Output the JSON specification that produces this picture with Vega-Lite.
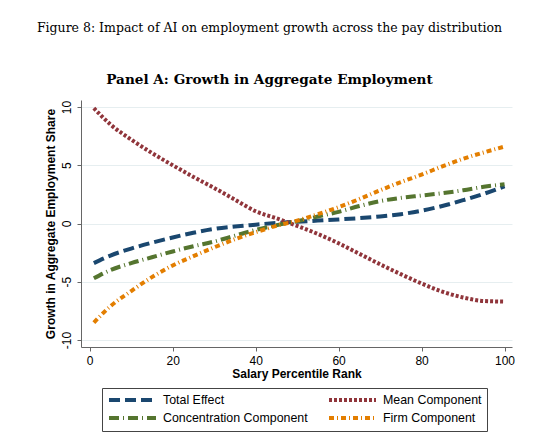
{
  "$schema": "https://vega.github.io/schema/vega-lite/v6.json",
  "autosize": {"type": "none"},
  "padding": {"left": 81, "top": 100, "right": 28, "bottom": 93},
  "width": 431,
  "height": 247,
  "background": "white",
  "title": {
    "text": "Figure 8: Impact of AI on employment growth across the pay distribution",
    "subtitle": "Panel A: Growth in Aggregate Employment",
    "anchor": "middle",
    "frame": "group",
    "dx": -27,
    "offset": 13,
    "font": "DejaVu Serif",
    "fontSize": 12.5,
    "fontWeight": "normal",
    "color": "#000000",
    "subtitleFont": "DejaVu Serif",
    "subtitleFontSize": 13.6,
    "subtitleFontWeight": "bold",
    "subtitleColor": "#000000",
    "subtitlePadding": 39
  },
  "data": {
    "values": [
      {"x": 1, "y": -3.4, "s": "Total Effect"},
      {"x": 5, "y": -2.75, "s": "Total Effect"},
      {"x": 10, "y": -2.15, "s": "Total Effect"},
      {"x": 15, "y": -1.65, "s": "Total Effect"},
      {"x": 20, "y": -1.2, "s": "Total Effect"},
      {"x": 25, "y": -0.8, "s": "Total Effect"},
      {"x": 30, "y": -0.47, "s": "Total Effect"},
      {"x": 35, "y": -0.26, "s": "Total Effect"},
      {"x": 40, "y": -0.1, "s": "Total Effect"},
      {"x": 45, "y": 0.05, "s": "Total Effect"},
      {"x": 50, "y": 0.15, "s": "Total Effect"},
      {"x": 55, "y": 0.25, "s": "Total Effect"},
      {"x": 60, "y": 0.35, "s": "Total Effect"},
      {"x": 65, "y": 0.46, "s": "Total Effect"},
      {"x": 70, "y": 0.6, "s": "Total Effect"},
      {"x": 75, "y": 0.8, "s": "Total Effect"},
      {"x": 80, "y": 1.1, "s": "Total Effect"},
      {"x": 85, "y": 1.5, "s": "Total Effect"},
      {"x": 90, "y": 2.0, "s": "Total Effect"},
      {"x": 95, "y": 2.55, "s": "Total Effect"},
      {"x": 100, "y": 3.2, "s": "Total Effect"},
      {"x": 1, "y": 9.9, "s": "Mean Component"},
      {"x": 5, "y": 8.5, "s": "Mean Component"},
      {"x": 10, "y": 7.2, "s": "Mean Component"},
      {"x": 15, "y": 6.05, "s": "Mean Component"},
      {"x": 20, "y": 5.0, "s": "Mean Component"},
      {"x": 25, "y": 4.0, "s": "Mean Component"},
      {"x": 30, "y": 3.05, "s": "Mean Component"},
      {"x": 35, "y": 2.05, "s": "Mean Component"},
      {"x": 40, "y": 1.05, "s": "Mean Component"},
      {"x": 45, "y": 0.45, "s": "Mean Component"},
      {"x": 50, "y": -0.2, "s": "Mean Component"},
      {"x": 55, "y": -0.9, "s": "Mean Component"},
      {"x": 60, "y": -1.7, "s": "Mean Component"},
      {"x": 65, "y": -2.6, "s": "Mean Component"},
      {"x": 70, "y": -3.5, "s": "Mean Component"},
      {"x": 75, "y": -4.35, "s": "Mean Component"},
      {"x": 80, "y": -5.15, "s": "Mean Component"},
      {"x": 85, "y": -5.85, "s": "Mean Component"},
      {"x": 90, "y": -6.35, "s": "Mean Component"},
      {"x": 95, "y": -6.65, "s": "Mean Component"},
      {"x": 100, "y": -6.7, "s": "Mean Component"},
      {"x": 1, "y": -4.7, "s": "Concentration Component"},
      {"x": 5, "y": -4.0, "s": "Concentration Component"},
      {"x": 10, "y": -3.4, "s": "Concentration Component"},
      {"x": 15, "y": -2.9, "s": "Concentration Component"},
      {"x": 20, "y": -2.4, "s": "Concentration Component"},
      {"x": 25, "y": -1.95, "s": "Concentration Component"},
      {"x": 30, "y": -1.55, "s": "Concentration Component"},
      {"x": 35, "y": -1.05, "s": "Concentration Component"},
      {"x": 40, "y": -0.55, "s": "Concentration Component"},
      {"x": 45, "y": -0.15, "s": "Concentration Component"},
      {"x": 50, "y": 0.2, "s": "Concentration Component"},
      {"x": 55, "y": 0.6, "s": "Concentration Component"},
      {"x": 60, "y": 1.0, "s": "Concentration Component"},
      {"x": 65, "y": 1.5, "s": "Concentration Component"},
      {"x": 70, "y": 1.92, "s": "Concentration Component"},
      {"x": 75, "y": 2.2, "s": "Concentration Component"},
      {"x": 80, "y": 2.4, "s": "Concentration Component"},
      {"x": 85, "y": 2.6, "s": "Concentration Component"},
      {"x": 90, "y": 2.85, "s": "Concentration Component"},
      {"x": 95, "y": 3.15, "s": "Concentration Component"},
      {"x": 100, "y": 3.36, "s": "Concentration Component"},
      {"x": 1, "y": -8.5, "s": "Firm Component"},
      {"x": 5, "y": -7.1, "s": "Firm Component"},
      {"x": 10, "y": -5.8, "s": "Firm Component"},
      {"x": 15, "y": -4.6, "s": "Firm Component"},
      {"x": 20, "y": -3.6, "s": "Firm Component"},
      {"x": 25, "y": -2.8, "s": "Firm Component"},
      {"x": 30, "y": -2.05, "s": "Firm Component"},
      {"x": 35, "y": -1.35, "s": "Firm Component"},
      {"x": 40, "y": -0.75, "s": "Firm Component"},
      {"x": 45, "y": -0.2, "s": "Firm Component"},
      {"x": 50, "y": 0.25, "s": "Firm Component"},
      {"x": 55, "y": 0.8, "s": "Firm Component"},
      {"x": 60, "y": 1.4, "s": "Firm Component"},
      {"x": 65, "y": 2.1, "s": "Firm Component"},
      {"x": 70, "y": 2.85, "s": "Firm Component"},
      {"x": 75, "y": 3.55, "s": "Firm Component"},
      {"x": 80, "y": 4.2, "s": "Firm Component"},
      {"x": 85, "y": 4.9, "s": "Firm Component"},
      {"x": 90, "y": 5.55, "s": "Firm Component"},
      {"x": 95, "y": 6.1, "s": "Firm Component"},
      {"x": 100, "y": 6.6, "s": "Firm Component"}
    ]
  },
  "mark": {"type": "line", "strokeWidth": 4, "interpolate": "monotone", "strokeCap": "butt"},
  "encoding": {
    "x": {
      "field": "x", "type": "quantitative",
      "scale": {"domain": [-2.1, 101.8], "nice": false, "zero": false},
      "axis": {"values": [0, 20, 40, 60, 80, 100], "title": "Salary Percentile Rank", "grid": false}
    },
    "y": {
      "field": "y", "type": "quantitative",
      "scale": {"domain": [-10.6, 10.6], "nice": false, "zero": false},
      "axis": {"values": [-10, -5, 0, 5, 10], "labelExpr": "toString(datum.value)", "title": "Growth in Aggregate Employment Share", "grid": true, "labelAngle": -90, "labelAlign": "center", "labelBaseline": "bottom"}
    },
    "color": {
      "field": "s", "type": "nominal",
      "scale": {
        "domain": ["Total Effect", "Mean Component", "Concentration Component", "Firm Component"],
        "range": ["#1a476f", "#90353b", "#55752f", "#e37e00"]
      },
      "legend": {
        "title": null, "orient": "none", "legendX": 21, "legendY": 288, "direction": "horizontal",
        "columns": 2, "columnPadding": 13, "rowPadding": 2,
        "symbolType": "M-1,0H8.4", "symbolSize": 100, "symbolStrokeWidth": 4,
        "labelFont": "Liberation Sans", "labelFontSize": 12.4, "labelColor": "#000000",
        "labelOffset": 42, "labelLimit": 300,
        "strokeColor": "#444444", "fillColor": "white", "padding": 5
      }
    },
    "strokeDash": {
      "field": "s", "type": "nominal",
      "scale": {
        "domain": ["Total Effect", "Mean Component", "Concentration Component", "Firm Component"],
        "range": [[11, 5], [3, 2], [10, 4, 1, 4], [5, 3, 1, 3]]
      },
      "legend": {
        "title": null, "orient": "none", "legendX": 21, "legendY": 288, "direction": "horizontal",
        "columns": 2, "columnPadding": 13, "rowPadding": 2,
        "symbolType": "M-1,0H8.4", "symbolSize": 100, "symbolStrokeWidth": 4,
        "labelFont": "Liberation Sans", "labelFontSize": 12.4, "labelColor": "#000000",
        "labelOffset": 42, "labelLimit": 300,
        "strokeColor": "#444444", "fillColor": "white", "padding": 5
      }
    }
  },
  "config": {
    "view": {"stroke": null},
    "axis": {
      "labelFont": "Liberation Sans", "labelFontSize": 12, "labelColor": "#000000",
      "titleFont": "Liberation Sans", "titleFontSize": 12, "titleFontWeight": "bold", "titleColor": "#000000",
      "domainColor": "#666666", "tickColor": "#666666", "tickSize": 4, "labelPadding": 4,
      "gridColor": "#e6eef0", "gridWidth": 1
    },
    "axisY": {"titlePadding": 3},
    "axisX": {"titlePadding": 2}
  }
}
